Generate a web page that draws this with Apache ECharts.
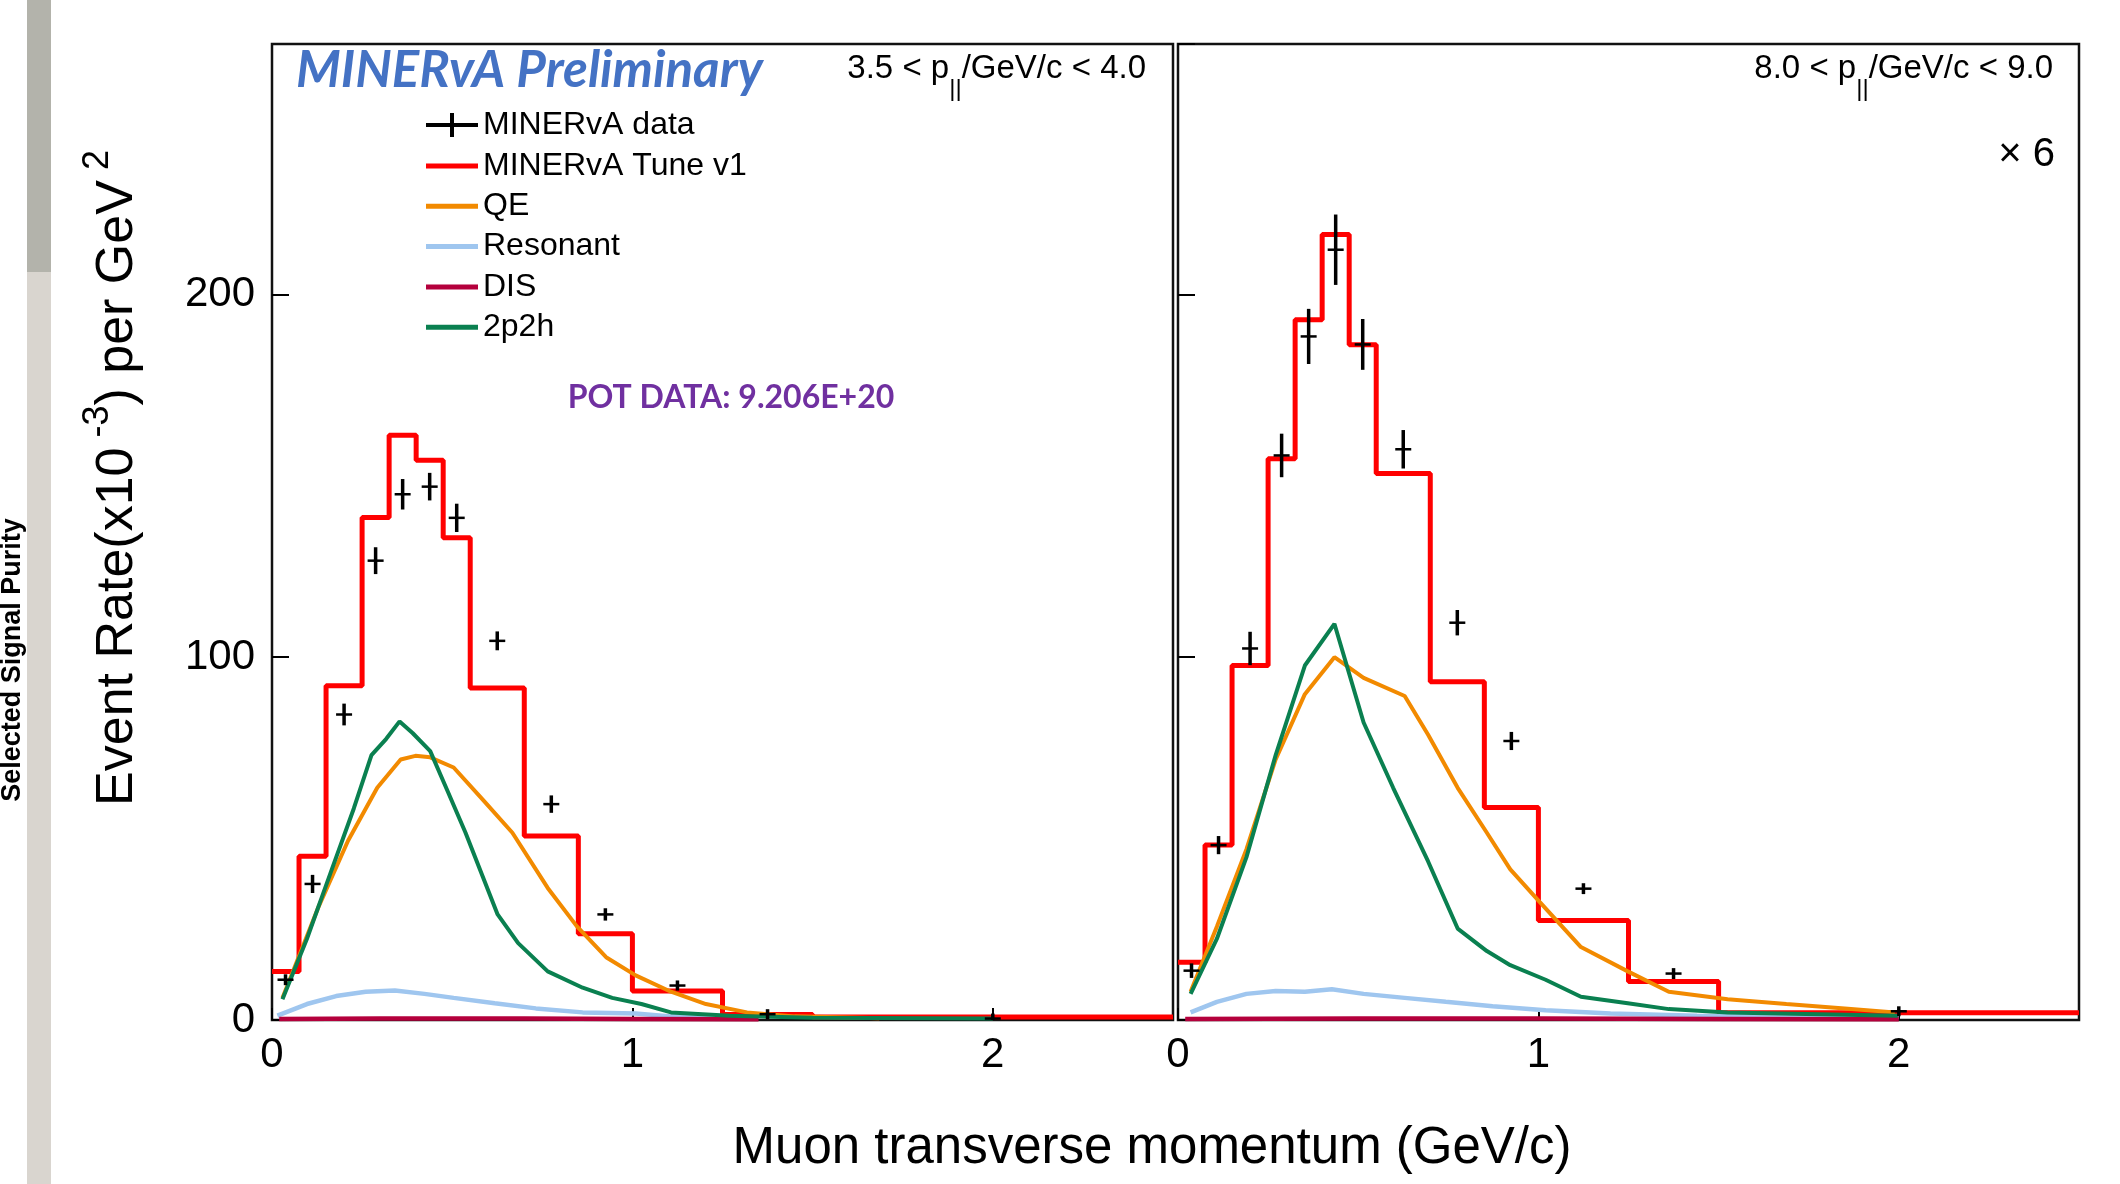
<!DOCTYPE html>
<html><head><meta charset="utf-8">
<script src="https://cdn.jsdelivr.net/npm/echarts@6/dist/echarts.min.js"></script>
<style>html,body{margin:0;padding:0;background:#fff}#c{width:2120px;height:1184px}</style>
</head><body><div id="c"></div>
<script>
// ---------------- data ----------------
const BIN_EDGES = [0, 0.075, 0.15, 0.25, 0.325, 0.4, 0.475, 0.55, 0.7, 0.85, 1.0, 1.25, 1.5, 2.5];
const TUNE_LEFT  = [13.4, 45.1, 92.1, 138.5, 161.2, 154.3, 132.9, 91.5, 50.7, 23.8, 8.0, 1.5, 0.8];
const TUNE_RIGHT = [15.9, 48.2, 97.7, 154.7, 193.0, 216.5, 186.1, 150.6, 93.2, 58.6, 27.4, 10.6, 2.0];

const DATA_X = [0.0375, 0.1125, 0.2, 0.2875, 0.3625, 0.4375, 0.5125, 0.625, 0.775, 0.925, 1.125, 1.375, 2.0];
const DATA_LEFT      = [11.1, 37.5, 84.2, 126.6, 144.9, 147.0, 138.4, 104.5, 59.5, 29.1, 9.5, 1.6, 0.4];
const DATA_LEFT_ERR  = [1.5, 2.5, 3.0, 3.7, 4.2, 3.8, 3.9, 2.6, 2.4, 1.7, 1.4, 1.0, 0.4];
const DATA_RIGHT     = [13.6, 48.2, 102.4, 155.6, 188.4, 212.3, 186.2, 157.3, 109.5, 76.9, 36.2, 12.8, 2.4];
const DATA_RIGHT_ERR = [2.0, 2.5, 4.6, 6.0, 7.6, 9.7, 7.0, 5.3, 3.5, 2.5, 1.5, 1.5, 0.8];

const QE_X_LEFT = [0.029, 0.13, 0.211, 0.292, 0.357, 0.398, 0.439, 0.504, 0.586, 0.667, 0.765, 0.846, 0.927, 1.009, 1.107, 1.204, 1.318, 1.45, 1.685];
const QE_LEFT   = [6.1, 31.4, 49.4, 64.0, 71.8, 72.8, 72.4, 69.6, 60.6, 51.6, 36.4, 25.8, 17.3, 12.3, 7.8, 4.4, 2.1, 1.0, 0.5];
const MEC_X_LEFT = [0.029, 0.097, 0.162, 0.227, 0.276, 0.317, 0.354, 0.39, 0.439, 0.488, 0.537, 0.586, 0.626, 0.683, 0.765, 0.862, 0.944, 1.025, 1.107, 1.27, 1.5, 2.0];
const MEC_LEFT   = [5.7, 22.4, 40.4, 58.3, 73.0, 77.5, 82.3, 79.1, 74.1, 62.9, 51.6, 39.2, 29.1, 21.2, 13.4, 8.9, 6.1, 4.4, 2.1, 1.2, 0.6, 0.4];
const RES_X_LEFT = [0.015, 0.097, 0.178, 0.26, 0.341, 0.423, 0.504, 0.618, 0.732, 0.862, 1.009, 1.107, 1.24];
const RES_LEFT   = [1.2, 4.4, 6.6, 7.8, 8.1, 7.2, 6.1, 4.6, 3.2, 2.1, 1.8, 1.0, 0.8];
const DIS_X_LEFT = [0.02, 0.3, 0.7, 1.0, 1.35];
const DIS_LEFT   = [0.3, 0.4, 0.4, 0.3, 0.2];

const QE_X_RIGHT = [0.035, 0.108, 0.19, 0.271, 0.352, 0.434, 0.515, 0.629, 0.694, 0.776, 0.857, 0.922, 1.004, 1.118, 1.248, 1.362, 1.525, 1.688, 1.85, 1.989];
const QE_RIGHT   = [7.8, 25.8, 47.1, 71.8, 89.8, 100.0, 94.3, 89.3, 78.6, 64.0, 51.6, 41.5, 32.5, 20.1, 13.4, 7.8, 5.7, 4.4, 3.2, 2.1];
const MEC_X_RIGHT = [0.035, 0.108, 0.19, 0.271, 0.352, 0.434, 0.515, 0.597, 0.694, 0.776, 0.857, 0.922, 1.02, 1.118, 1.248, 1.362, 1.525, 1.997];
const MEC_RIGHT   = [7.2, 22.4, 44.9, 73.0, 97.7, 109.2, 82.0, 64.0, 43.7, 25.2, 19.0, 15.1, 11.1, 6.4, 4.6, 3.0, 2.1, 1.2];
const RES_X_RIGHT = [0.035, 0.108, 0.19, 0.271, 0.352, 0.427, 0.515, 0.629, 0.743, 0.873, 1.02, 1.2, 1.44, 1.77, 2.0];
const RES_RIGHT   = [2.1, 5.0, 7.2, 8.0, 7.8, 8.5, 7.2, 6.1, 5.0, 3.8, 2.7, 1.8, 1.2, 0.8, 0.8];
const DIS_X_RIGHT = [0.02, 0.5, 1.0, 1.5, 2.0];
const DIS_RIGHT   = [0.3, 0.4, 0.4, 0.3, 0.2];

const X_TICK_INTERVAL = 1;
const Y_TICK_INTERVAL = 100;
const X_MAX = 2.5;
const Y_MAX = 269;

const PANEL_LABELS = ['3.5 < p', '/GeV/c < 4.0', '8.0 < p', '/GeV/c < 9.0'];
const SCALE_LABEL = '6';

// ---------------- helpers ----------------
function stepPoints(edges, vals) {
  const pts = [];
  for (let i = 0; i < vals.length; i++) {
    pts.push([edges[i], vals[i]]);
    pts.push([edges[i + 1], vals[i]]);
  }
  return pts;
}
function pairs(xs, ys) { return xs.map((x, i) => [x, ys[i]]); }
function triples(xs, ys, es) { return xs.map((x, i) => [x, ys[i], es[i]]); }

const FONT = 'Liberation Sans';
const COLORS = { tune: '#ff0000', qe: '#f28a00', res: '#9fc6ef', dis: '#b4003c', mec: '#0a8050', data: '#000000' };

function renderErr(params, api) {
  const x = api.value(0), y = api.value(1), e = api.value(2);
  const c = api.coord([x, y]);
  let lo = api.coord([x, y - e])[1], hi = api.coord([x, y + e])[1];
  if (lo - c[1] < 5) lo = c[1] + 5;
  if (c[1] - hi < 5) hi = c[1] - 5;
  return {
    type: 'group',
    children: [
      { type: 'line', shape: { x1: c[0], y1: lo, x2: c[0], y2: hi }, style: { stroke: '#000', lineWidth: 3.5 } },
      { type: 'line', shape: { x1: c[0] - 8, y1: c[1], x2: c[0] + 8, y2: c[1] }, style: { stroke: '#000', lineWidth: 2.5 } }
    ]
  };
}

function lineSeries(name, data, color, width, idx) {
  return {
    name, type: 'line', xAxisIndex: idx, yAxisIndex: idx, data,
    showSymbol: false, symbol: 'none', smooth: false, clip: true,
    lineStyle: { color, width }, itemStyle: { color }
  };
}

function panelSeries(idx, tune, qeX, qe, resX, res, disX, dis, mecX, mec, dy, de) {
  return [
    lineSeries('MINERvA Tune v1', stepPoints(BIN_EDGES, tune), COLORS.tune, 5, idx),
    lineSeries('QE', pairs(qeX, qe), COLORS.qe, 4, idx),
    lineSeries('Resonant', pairs(resX, res), COLORS.res, 4.5, idx),
    lineSeries('DIS', pairs(disX, dis), COLORS.dis, 4.5, idx),
    lineSeries('2p2h', pairs(mecX, mec), COLORS.mec, 4, idx),
    {
      name: 'MINERvA data', type: 'custom', xAxisIndex: idx, yAxisIndex: idx,
      data: triples(DATA_X, dy, de), renderItem: renderErr, clip: true,
      encode: { x: 0, y: 1 }, itemStyle: { color: '#000' }, z: 5
    }
  ];
}

function xAxisCfg(idx) {
  return {
    type: 'value', gridIndex: idx, min: 0, max: X_MAX, interval: X_TICK_INTERVAL,
    axisLine: { show: false },
    axisTick: { show: true, inside: true, length: 12, lineStyle: { color: '#000', width: 2 } },
    axisLabel: { show: true, fontSize: 42, color: '#000', fontFamily: FONT, margin: 14, showMaxLabel: false },
    splitLine: { show: false }
  };
}
function yAxisCfg(idx, labels) {
  return {
    type: 'value', gridIndex: idx, min: 0, max: Y_MAX, interval: Y_TICK_INTERVAL,
    axisLine: { show: false },
    axisTick: { show: true, inside: true, length: 17, lineStyle: { color: '#000', width: 2 } },
    axisLabel: { show: labels, fontSize: 42, color: '#000', fontFamily: FONT, margin: 17, showMaxLabel: false },
    splitLine: { show: false }
  };
}

const legendText = { fontSize: 32, color: '#000', fontFamily: FONT, lineHeight: 32 };
const crossIcon = 'path://M0,10 L52,10 L52,14 L0,14 Z M24,0 L28,0 L28,24 L24,24 Z';

const option = {
  animation: false,
  backgroundColor: '#ffffff',
  grid: [
    { left: 272, top: 44, width: 901, height: 976, show: true, borderColor: '#111', borderWidth: 2.5, backgroundColor: 'transparent' },
    { left: 1178, top: 44, width: 901, height: 976, show: true, borderColor: '#111', borderWidth: 2.5, backgroundColor: 'transparent' }
  ],
  xAxis: [xAxisCfg(0), xAxisCfg(1)],
  yAxis: [yAxisCfg(0, true), yAxisCfg(1, false)],
  legend: [
    {
      data: [{ name: 'MINERvA data', icon: crossIcon }],
      left: 421, top: 104, itemWidth: 52, itemHeight: 24, selectedMode: false,
      textStyle: legendText
    },
    {
      data: ['MINERvA Tune v1', 'QE', 'Resonant', 'DIS', '2p2h'].map(n => ({ name: n, icon: 'rect' })),
      orient: 'vertical', left: 421, top: 145, itemWidth: 52, itemHeight: 5, itemGap: 8.3, selectedMode: false,
      textStyle: legendText
    }
  ],
  series: [
    ...panelSeries(0, TUNE_LEFT, QE_X_LEFT, QE_LEFT, RES_X_LEFT, RES_LEFT, DIS_X_LEFT, DIS_LEFT, MEC_X_LEFT, MEC_LEFT, DATA_LEFT, DATA_LEFT_ERR),
    ...panelSeries(1, TUNE_RIGHT, QE_X_RIGHT, QE_RIGHT, RES_X_RIGHT, RES_RIGHT, DIS_X_RIGHT, DIS_RIGHT, MEC_X_RIGHT, MEC_RIGHT, DATA_RIGHT, DATA_RIGHT_ERR)
  ],
  graphic: [
    { type: 'rect', shape: { x: 27, y: 0, width: 24, height: 272 }, style: { fill: '#b3b3ab' }, silent: true },
    { type: 'rect', shape: { x: 27, y: 272, width: 24, height: 912 }, style: { fill: '#d9d5cf' }, silent: true },
    { type: 'text', x: 13, y: 660, rotation: Math.PI / 2,
      style: { text: 'Selected Signal Purity', font: 'bold 27px "Liberation Sans"', fill: '#000', align: 'center', verticalAlign: 'middle' } },
    { type: 'text', x: 118, y: 478, rotation: Math.PI / 2,
      style: {
        text: '{m|Event Rate(x10}{s| -3}{m|) per GeV}{s| 2}',
        align: 'center', verticalAlign: 'middle',
        rich: {
          m: { fontSize: 52, fontFamily: FONT, fill: '#000' },
          s: { fontSize: 36, fontFamily: FONT, fill: '#000', padding: [0, 0, 40, 0] }
        }
      } },
    { type: 'text', x: 1152, y: 1149,
      style: { text: 'Muon transverse momentum (GeV/c)', font: '51px "Liberation Sans"', fill: '#000', align: 'center', verticalAlign: 'middle' } },
    { type: 'text', x: 296, y: 71,
      style: { text: 'MINERvA Preliminary', font: 'italic bold 51px Lato', fill: '#4472c4', align: 'left', verticalAlign: 'middle' } },
    { type: 'text', x: 731, y: 398,
      style: { text: 'POT DATA: 9.206E+20', font: 'bold 32px Lato', fill: '#7030a0', align: 'center', verticalAlign: 'middle' } },
    { type: 'text', x: 1146, y: 69,
      style: {
        text: '{m|' + PANEL_LABELS[0] + '}{s|||}{m|' + PANEL_LABELS[1] + '}',
        align: 'right', verticalAlign: 'middle',
        rich: {
          m: { fontSize: 33, fontFamily: FONT, fill: '#000' },
          s: { fontSize: 24, fontFamily: FONT, fill: '#000', padding: [40, 0, 0, 0] }
        }
      } },
    { type: 'text', x: 2053, y: 69,
      style: {
        text: '{m|' + PANEL_LABELS[2] + '}{s|||}{m|' + PANEL_LABELS[3] + '}',
        align: 'right', verticalAlign: 'middle',
        rich: {
          m: { fontSize: 33, fontFamily: FONT, fill: '#000' },
          s: { fontSize: 24, fontFamily: FONT, fill: '#000', padding: [40, 0, 0, 0] }
        }
      } },
    { type: 'text', x: 2055, y: 155,
      style: {
        text: '{a|\u00d7}{b| ' + SCALE_LABEL + '}',
        align: 'right', verticalAlign: 'middle',
        rich: {
          a: { fontSize: 40, fontFamily: FONT, fill: '#000' },
          b: { fontSize: 40, fontFamily: FONT, fill: '#000' }
        }
      } }
  ]
};

const chart = echarts.init(document.getElementById('c'));
chart.setOption(option);
</script>
</body></html>
